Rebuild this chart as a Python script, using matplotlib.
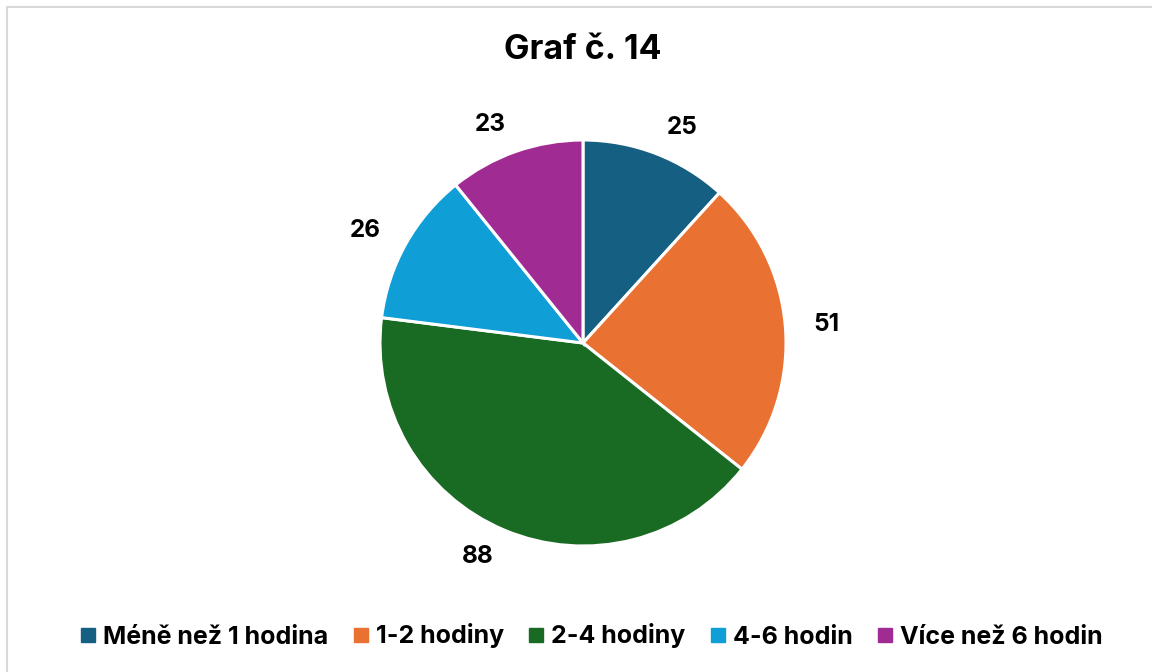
import matplotlib.pyplot as plt
from matplotlib.patches import Rectangle
from matplotlib.lines import Line2D

plt.rcParams['font.family'] = ['Inter', 'DejaVu Sans']

categories = ["Méně než 1 hodina", "1-2 hodiny", "2-4 hodiny", "4-6 hodin", "Více než 6 hodin"]
values = [25, 51, 88, 26, 23]
colors = ["#156082", "#E97132", "#196B24", "#0F9ED5", "#A02B93"]

W, H = 1152, 672
fig = plt.figure(figsize=(W / 100, H / 100), dpi=100)

# light frame around chart area (right/bottom edges run off the image)
fig.patches.append(Rectangle((6.5 / W, -0.05), 1.2, 1 - 6.5 / H + 0.05, transform=fig.transFigure,
                             fill=False, edgecolor="#d9d9d9", linewidth=1.5))

cx, cy, r = 583, 343, 203
ax = fig.add_axes([(cx - r) / W, (H - cy - r) / H, 2 * r / W, 2 * r / H])
wedges, texts = ax.pie(values, colors=colors, startangle=90, counterclock=False,
                       labels=[str(v) for v in values], labeldistance=1.14,
                       wedgeprops=dict(edgecolor="white", linewidth=2.2),
                       textprops=dict(fontsize=17.5, fontweight="bold", color="black"))
ax.set_aspect("equal")
ax.set_xlim(-1, 1)
ax.set_ylim(-1, 1)

fig.text(cx / W, 1 - 50 / H, "Graf č. 14", ha="center", va="center",
         fontsize=24.5, fontweight="bold")

handles = [Line2D([], [], marker="s", linestyle="none", markersize=10, color=c) for c in colors]
fig.legend(handles, categories, loc="center", bbox_to_anchor=(589 / W, 1 - 636 / H), ncol=5,
           frameon=False, prop=dict(size=18, weight="bold"), handletextpad=0.1,
           columnspacing=0.8, handlelength=1.0)

fig.savefig("out.png", dpi=100)
